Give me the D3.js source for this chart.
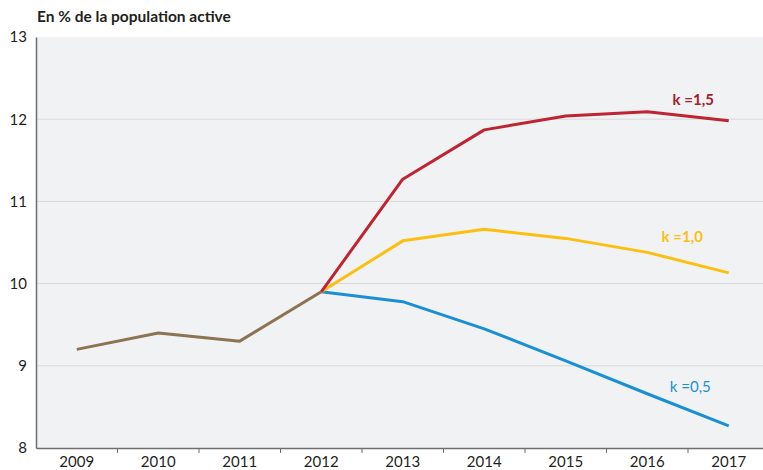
<!DOCTYPE html>
<html>
<head>
<meta charset="utf-8">
<script src="https://cdn.jsdelivr.net/npm/d3@7"></script>
<style>
  body { margin: 0; background: #fff; }
  svg { display: block; font-family: Lato, "Open Sans", sans-serif; }
</style>
</head>
<body>
<div class="chart"></div>
<script>
// years and series (chômage en % de la population active)
const years = ['2009', '2010', '2011', '2012', '2013', '2014', '2015', '2016', '2017'];
const common = [9.2, 9.4, 9.3, 9.9, null, null, null, null, null];
const k15 = [null, null, null, 9.9, 11.27, 11.87, 12.04, 12.09, 11.98];
const k10 = [null, null, null, 9.9, 10.52, 10.66, 10.55, 10.38, 10.13];
const k05 = [null, null, null, 9.9, 9.78, 9.45, 9.06, 8.66, 8.27];
const yTicks = [8, 9, 10, 11, 12, 13];
const seriesNames = ['k =1,5', 'k =1,0', 'k =0,5'];

const width = 763, height = 470;
const margin = { top: 37, left: 36, bottom: 22 };

const svg = d3.select('.chart').append('svg')
  .attr('width', width)
  .attr('height', height);

// band scale runs past the right edge, the picture is cropped there
const x = d3.scaleBand().domain(years).range([margin.left, margin.left + 9 * 81.5]);
const y = d3.scaleLinear().domain([8, 13]).range([height - margin.bottom, margin.top]);
const cx = d => x(d) + x.bandwidth() / 2;

// plot background
svg.append('rect')
  .attr('x', margin.left).attr('y', y(13))
  .attr('width', width - margin.left).attr('height', y(8) - y(13))
  .attr('fill', '#f1f2f4');

// grid
svg.selectAll('.grid').data(yTicks.filter(t => t > 8 && t < 13))
  .enter().append('line')
  .attr('x1', margin.left).attr('x2', width)
  .attr('y1', d => y(d)).attr('y2', d => y(d))
  .attr('stroke', '#d8d9db').attr('stroke-width', 1);

// y axis
const yAxis = svg.append('g')
  .attr('transform', 'translate(' + margin.left + ',0)')
  .call(d3.axisLeft(y).tickValues(yTicks).tickSize(0).tickPadding(9).tickFormat(d3.format('d')));
yAxis.select('.domain').attr('stroke', '#6d6e70').attr('stroke-width', 1.5);
yAxis.selectAll('text').attr('font-size', 15).attr('fill', '#231f20').attr('font-family', 'Lato, sans-serif');

// x axis, ticks on band boundaries
const xAxis = svg.append('g')
  .attr('transform', 'translate(0,' + y(8) + ')')
  .call(d3.axisBottom(x).tickSize(0).tickPadding(8));
xAxis.select('.domain').attr('stroke', '#6d6e70').attr('stroke-width', 1.5);
xAxis.selectAll('text').attr('font-size', 15).attr('fill', '#231f20').attr('font-family', 'Lato, sans-serif');
xAxis.selectAll('.sep').data(years.slice(1))
  .enter().append('line')
  .attr('x1', d => x(d)).attr('x2', d => x(d))
  .attr('y1', 0).attr('y2', 5)
  .attr('stroke', '#6d6e70');

// lines
const line = d3.line()
  .defined(d => d.v != null)
  .x(d => cx(d.year))
  .y(d => y(d.v));
const toPts = arr => arr.map((v, i) => ({ year: years[i], v: v }));

const series = [
  { vals: k05, color: '#1a8fd4' },
  { vals: k10, color: '#fcbf11' },
  { vals: k15, color: '#be2431' },
  { vals: common, color: '#8c7352' }
];
series.forEach(s => {
  svg.append('path')
    .datum(toPts(s.vals))
    .attr('d', line)
    .attr('fill', 'none')
    .attr('stroke', s.color)
    .attr('stroke-width', 3)
    .attr('stroke-linejoin', 'round');
});

// labels
const labels = [
  { text: seriesNames[0], year: '2016', v: 12.17, color: '#a3222d', weight: 700 },
  { text: seriesNames[1], year: '2016', v: 10.51, color: '#fcbf11', weight: 700 },
  { text: seriesNames[2], year: '2016', v: 8.68, color: '#1a8fd4', weight: 400 }
];
const dx = [46, 35, 43];
labels.forEach((l, i) => {
  svg.append('text')
    .attr('x', cx(l.year) + dx[i])
    .attr('y', y(l.v))
    .attr('text-anchor', 'middle')
    .attr('font-size', 15)
    .attr('font-weight', l.weight)
    .attr('fill', l.color)
    .text(l.text);
});

// header
svg.append('text')
  .attr('x', 37).attr('y', 22)
  .attr('font-size', 15.5)
  .attr('font-weight', 700)
  .attr('fill', '#231f20')
  .text('En % de la population active');
</script>
</body>
</html>
